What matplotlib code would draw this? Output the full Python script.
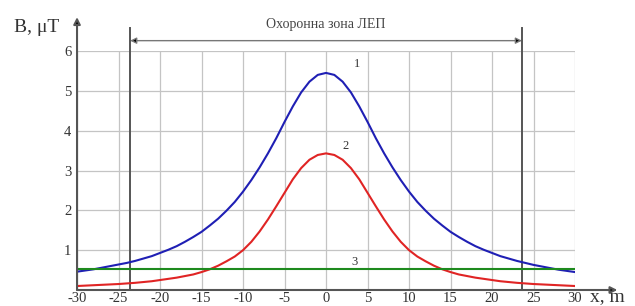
import matplotlib.pyplot as plt

# distance from the line axis, m
x = list(range(-30, 31))

# curve 1 (blue)
b1 = [0.46, 0.49, 0.52, 0.56, 0.60, 0.64, 0.68, 0.73, 0.79, 0.85, 0.93,
      1.01, 1.10, 1.21, 1.33, 1.46, 1.62, 1.79, 1.99, 2.21, 2.47,
      2.76, 3.08, 3.43, 3.81, 4.22, 4.61, 4.96, 5.23, 5.40, 5.45,
      5.40, 5.23, 4.96, 4.61, 4.22, 3.81, 3.43, 3.08, 2.76, 2.47,
      2.21, 1.99, 1.79, 1.62, 1.46, 1.33, 1.21, 1.10, 1.01, 0.93,
      0.85, 0.79, 0.73, 0.68, 0.63, 0.59, 0.55, 0.51, 0.48, 0.45]

# curve 2 (red)
b2 = [0.10, 0.11, 0.12, 0.13, 0.14, 0.15, 0.165, 0.18, 0.20, 0.22, 0.25,
      0.28, 0.31, 0.35, 0.39, 0.45, 0.52, 0.61, 0.72, 0.84, 1.00,
      1.21, 1.47, 1.77, 2.10, 2.44, 2.78, 3.06, 3.27, 3.39, 3.43,
      3.39, 3.27, 3.06, 2.78, 2.44, 2.10, 1.77, 1.47, 1.21, 1.00,
      0.84, 0.72, 0.61, 0.52, 0.45, 0.39, 0.35, 0.31, 0.28, 0.25,
      0.22, 0.20, 0.18, 0.165, 0.15, 0.14, 0.13, 0.12, 0.11, 0.10]

# curve 3 (green), constant level
b3 = [0.52] * len(x)

zone = 23.6
xticks = list(range(-30, 31, 5))
yticks = [1, 2, 3, 4, 5, 6]

serif = 'Liberation Serif'
fig = plt.figure(figsize=(6.35, 3.06), dpi=100)
ax = fig.add_axes([0.1213, 0.0523, 0.7843, 0.781])

for xv in xticks:
    ax.plot([xv, xv], [0, 6], color='#c4c4c4', lw=0.9, zorder=1)
for yv in yticks:
    ax.plot([-30, 30], [yv, yv], color='#c4c4c4', lw=0.9, zorder=1)

ax.plot(x, b1, color='#1f1fb4', lw=1.5, zorder=3)
ax.plot(x, b2, color='#e02424', lw=1.5, zorder=3)
ax.plot(x, b3, color='#1e8a1e', lw=1.5, zorder=3)

ax.text(3.4, 5.6, '1', fontsize=9, family=serif, color='#333333')
ax.text(2.0, 3.55, '2', fontsize=9, family=serif, color='#333333')
ax.text(3.0, 0.62, '3', fontsize=9, family=serif, color='#333333')

# protection zone
for zx in (-zone, zone):
    ax.plot([zx, zx], [0, 6.58], color='#555555', lw=1.4, zorder=2, clip_on=False)
ax.annotate('', xy=(-zone, 6.26), xytext=(zone, 6.26),
            arrowprops=dict(arrowstyle='<|-|>', color='#777777', lw=1.0,
                            mutation_scale=9, shrinkA=0, shrinkB=0,
                            fc='black'), annotation_clip=False)
ax.text(0, 6.5, 'Охоронна зона ЛЕП', ha='center', va='bottom', fontsize=10,
        family=serif, color='#444444')

# axes with arrows
ax.annotate('', xy=(-30, 6.85), xytext=(-30, 0),
            arrowprops=dict(arrowstyle='-|>', color='#555555', lw=1.5,
                            mutation_scale=10, shrinkA=0, shrinkB=0, fc='black'),
            annotation_clip=False)
ax.annotate('', xy=(35.1, 0), xytext=(-30, 0),
            arrowprops=dict(arrowstyle='-|>', color='#555555', lw=1.5,
                            mutation_scale=10, shrinkA=0, shrinkB=0, fc='black'),
            annotation_clip=False)

ax.set_xlim(-30, 30)
ax.set_ylim(0, 6)
for s in ax.spines.values():
    s.set_visible(False)
ax.set_xticks(xticks)
ax.set_yticks(yticks)
ax.set_xticklabels([str(v) for v in xticks], family=serif, fontsize=10.5, color='#333333')
ax.set_yticklabels([str(v) for v in yticks], family=serif, fontsize=10.5, color='#333333')
ax.tick_params(axis='x', length=0, pad=1.5)
ax.tick_params(axis='y', length=0, pad=4)

fig.text(14 / 635, 1 - 27 / 306, 'B, μT', ha='left', va='center', fontsize=14,
         family=serif, color='#333333')
fig.text(590 / 635, 1 - 297 / 306, 'x, m', ha='left', va='center', fontsize=14,
         family=serif, color='#333333')

fig.savefig('out.png', dpi=100)
